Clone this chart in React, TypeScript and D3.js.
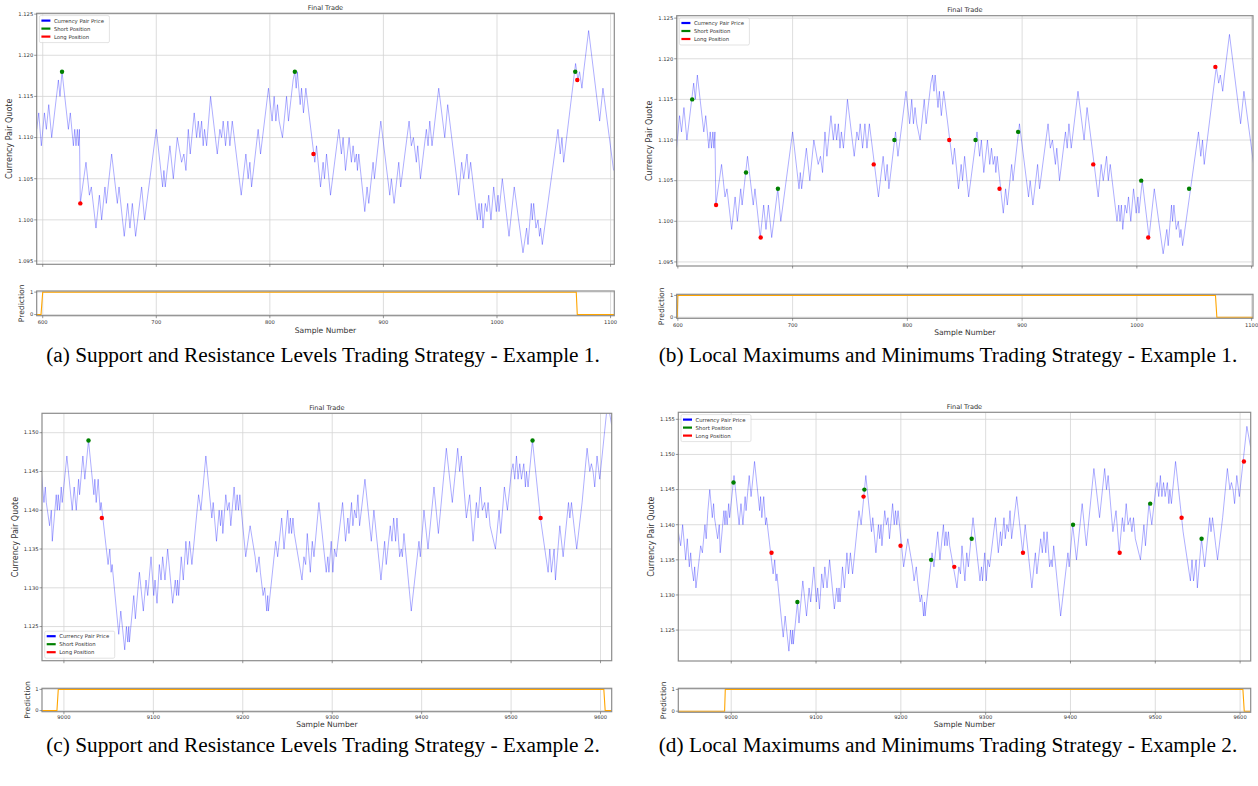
import React from 'react';
import * as d3 from 'd3';

type Pt = [number, number];

// ---------- DATA ----------
const PRICE_AB: Pt[] = [
  [594.7,1.111],[596.5,1.113],[598.8,1.109],[601.5,1.113],[603.2,1.111],[605.3,1.114],[607.9,1.110],[613.8,1.117],[615.2,1.115],[617.0,1.118],
  [622.6,1.111],[624.3,1.113],[627.0,1.109],[628.2,1.111],[629.3,1.109],[630.5,1.111],[631.4,1.109],[632.3,1.111],[633.1,1.102],[638.1,1.107],
  [641.1,1.103],[642.8,1.104],[646.9,1.099],[649.9,1.103],[651.9,1.100],[654.8,1.104],[656.0,1.102],[660.7,1.108],[665.7,1.102],[667.2,1.104],
  [671.8,1.098],[674.8,1.102],[676.8,1.099],[678.9,1.102],[681.8,1.098],[687.1,1.104],[689.7,1.100],[700.0,1.111],[705.6,1.104],[706.7,1.106],
  [707.9,1.104],[712.0,1.109],[715.0,1.105],[718.5,1.110],[722.3,1.107],[724.3,1.108],[726.1,1.106],[728.2,1.111],[729.9,1.108],[733.4,1.113],
  [735.5,1.110],[737.0,1.112],[738.4,1.110],[739.9,1.112],[741.3,1.109],[742.5,1.111],[744.3,1.109],[747.8,1.115],[753.7,1.108],[756.0,1.111],
  [757.5,1.110],[758.9,1.112],[761.0,1.109],[763.0,1.112],[764.8,1.109],[766.9,1.112],[771.3,1.107],[774.8,1.103],[778.9,1.108],[780.9,1.105],
  [782.4,1.107],[783.9,1.104],[789.7,1.111],[791.8,1.108],[798.8,1.116],[802.0,1.112],[803.8,1.115],[805.3,1.112],[806.7,1.114],[808.2,1.112],
  [811.1,1.110],[814.7,1.115],[816.4,1.112],[820.5,1.117],[822.0,1.118],[823.2,1.116],[824.2,1.118],[826.7,1.114],[827.9,1.116],[829.6,1.113],
  [831.7,1.116],[839.6,1.107],[841.1,1.109],[844.6,1.104],[846.9,1.107],[848.1,1.105],[849.9,1.108],[853.4,1.103],[860.7,1.111],[863.0,1.108],
  [864.5,1.110],[866.6,1.106],[869.8,1.110],[871.8,1.107],[873.3,1.109],[874.8,1.107],[876.2,1.108],[877.1,1.106],[878.3,1.108],[883.6,1.101],
  [885.6,1.104],[887.1,1.102],[890.9,1.107],[892.1,1.105],[897.7,1.112],[905.6,1.103],[907.0,1.105],[909.4,1.102],[913.5,1.107],[915.2,1.104],
  [922.6,1.112],[924.6,1.109],[926.4,1.110],[929.0,1.107],[930.2,1.109],[932.6,1.105],[937.8,1.111],[939.3,1.109],[940.8,1.112],[942.8,1.109],
  [948.7,1.116],[954.0,1.110],[956.6,1.114],[966.3,1.103],[968.9,1.107],[970.7,1.105],[973.6,1.108],[975.1,1.105],[976.8,1.107],[982.7,1.100],
  [984.2,1.102],[985.3,1.100],[986.5,1.102],[987.7,1.099],[989.7,1.102],[991.2,1.101],[992.7,1.103],[994.7,1.100],[997.1,1.104],[999.4,1.101],
  [1000.9,1.103],[1001.8,1.101],[1004.7,1.105],[1010.6,1.098],[1015.2,1.104],[1022.9,1.096],[1026.1,1.099],[1027.3,1.097],[1030.2,1.102],[1031.1,1.100],
  [1032.3,1.102],[1034.3,1.099],[1036.1,1.100],[1037.5,1.098],[1038.4,1.099],[1039.9,1.097],[1053.7,1.111],[1055.7,1.108],[1057.2,1.110],[1058.7,1.107],
  [1069.2,1.119],[1071.3,1.117],[1072.7,1.118],[1074.8,1.116],[1076.3,1.118],[1080.7,1.123],[1090.4,1.112],[1093.3,1.116],[1102.7,1.106]
];

const PRICE_CD: Pt[] = [
  [8937.6,1.139],[8940.4,1.137],[8942.7,1.140],[8946.3,1.135],[8948.2,1.138],[8950.6,1.134],[8952.2,1.136],[8953.3,1.134],[8955.7,1.132],[8956.9,1.134],
  [8958.4,1.131],[8964.0,1.137],[8966.0,1.136],[8969.0,1.140],[8970.5,1.138],[8972.5,1.142],[8974.7,1.145],[8977.7,1.141],[8979.2,1.143],[8980.3,1.141],
  [8984.0,1.138],[8985.9,1.140],[8987.0,1.136],[8991.4,1.142],[8992.6,1.140],[8993.7,1.142],[8995.2,1.140],[8997.0,1.143],[8998.1,1.141],[9003.3,1.147],
  [9009.3,1.140],[9011.5,1.143],[9013.8,1.140],[9016.4,1.144],[9017.5,1.142],[9021.2,1.147],[9023.4,1.144],[9027.5,1.149],[9033.5,1.142],[9034.6,1.144],
  [9036.1,1.141],[9038.3,1.144],[9040.5,1.140],[9041.6,1.141],[9049.4,1.133],[9051.3,1.135],[9052.8,1.132],[9053.9,1.133],[9061.3,1.124],[9063.6,1.127],
  [9068.0,1.122],[9069.9,1.125],[9071.4,1.123],[9072.5,1.125],[9073.2,1.123],[9078.1,1.129],[9079.9,1.126],[9084.4,1.132],[9088.8,1.127],[9091.8,1.131],
  [9093.7,1.129],[9097.4,1.134],[9100.4,1.129],[9101.9,1.131],[9104.1,1.128],[9106.7,1.133],[9108.6,1.131],[9110.4,1.134],[9113.0,1.131],[9116.0,1.135],
  [9121.6,1.128],[9124.5,1.131],[9126.0,1.129],[9127.1,1.131],[9128.3,1.129],[9131.2,1.134],[9133.5,1.131],[9136.4,1.136],[9138.3,1.133],[9140.5,1.136],
  [9143.1,1.133],[9150.6,1.142],[9153.2,1.140],[9158.7,1.147],[9165.4,1.139],[9166.9,1.141],[9170.6,1.136],[9173.6,1.140],[9175.1,1.138],[9176.6,1.140],
  [9177.7,1.137],[9181.0,1.142],[9182.9,1.140],[9184.8,1.141],[9186.6,1.138],[9190.3,1.143],[9192.2,1.140],[9193.7,1.142],[9195.2,1.140],[9196.7,1.142],
  [9203.3,1.134],[9208.2,1.138],[9213.8,1.134],[9215.6,1.132],[9218.2,1.134],[9219.7,1.132],[9222.7,1.129],[9224.5,1.130],[9226.8,1.127],[9227.9,1.129],
  [9228.6,1.127],[9236.8,1.136],[9239.0,1.134],[9243.5,1.139],[9246.1,1.135],[9250.2,1.140],[9251.7,1.137],[9253.2,1.139],[9254.6,1.137],[9256.1,1.139],
  [9257.6,1.137],[9266.2,1.131],[9268.4,1.134],[9270.3,1.133],[9272.1,1.137],[9275.5,1.132],[9277.7,1.136],[9279.6,1.134],[9285.1,1.141],[9293.3,1.132],
  [9295.1,1.134],[9296.3,1.132],[9298.9,1.136],[9300.7,1.132],[9302.6,1.135],[9304.5,1.134],[9311.6,1.141],[9314.9,1.136],[9317.5,1.139],[9318.7,1.137],
  [9321.6,1.141],[9323.1,1.138],[9325.0,1.140],[9326.9,1.139],[9328.7,1.142],[9330.6,1.138],[9336.6,1.144],[9343.7,1.136],[9346.6,1.140],[9354.5,1.131],
  [9358.6,1.136],[9360.4,1.133],[9364.9,1.138],[9366.8,1.136],[9368.7,1.139],[9370.9,1.136],[9372.4,1.139],[9375.4,1.134],[9377.2,1.135],[9378.4,1.134],
  [9380.2,1.137],[9388.4,1.127],[9397.0,1.136],[9398.5,1.134],[9402.6,1.140],[9407.1,1.135],[9413.8,1.143],[9418.7,1.137],[9427.6,1.148],[9434.3,1.141],
  [9440.3,1.148],[9442.5,1.145],[9444.4,1.147],[9450.0,1.139],[9453.7,1.142],[9457.5,1.136],[9461.2,1.141],[9463.1,1.139],[9465.7,1.143],[9467.9,1.140],
  [9470.5,1.141],[9472.4,1.139],[9474.3,1.141],[9476.5,1.138],[9482.5,1.135],[9486.6,1.140],[9488.4,1.137],[9492.5,1.143],[9495.9,1.140],[9500.4,1.145],
  [9502.2,1.146],[9504.1,1.144],[9506.0,1.147],[9507.8,1.144],[9509.7,1.146],[9511.6,1.144],[9514.2,1.146],[9516.0,1.143],[9517.2,1.145],[9519.0,1.143],
  [9523.9,1.149],[9532.8,1.139],[9541.4,1.132],[9543.3,1.135],[9545.1,1.132],[9548.1,1.135],[9549.6,1.131],[9554.5,1.138],[9558.2,1.134],[9564.2,1.141],
  [9565.7,1.139],[9567.5,1.141],[9569.4,1.139],[9571.3,1.137],[9573.4,1.135],[9579.4,1.141],[9585.0,1.148],[9588.0,1.145],[9589.8,1.146],[9591.7,1.145],
  [9593.5,1.143],[9596.1,1.147],[9599.1,1.144],[9608.0,1.154],[9612.4,1.151]
];

const SHORT_A: Pt[] = [[617.0,1.118],[822.0,1.118],[1068.9,1.118]];
const LONG_A: Pt[] = [[633.1,1.102],[838.4,1.108],[1070.7,1.117]];
const SHORT_B: Pt[] = [[612.5,1.115],[659.4,1.106],[687.2,1.104],[788.7,1.110],[859.4,1.110],[896.5,1.111],[1003.8,1.105],[1045.5,1.104]];
const LONG_B: Pt[] = [[633.3,1.102],[672.2,1.098],[770.7,1.107],[836.5,1.110],[880.3,1.104],[962.0,1.107],[1009.9,1.098],[1068.4,1.119]];
const SHORT_C: Pt[] = [[9027.5,1.149],[9524.0,1.149]];
const LONG_C: Pt[] = [[9042.4,1.139],[9533.0,1.139]];
const SHORT_D: Pt[] = [[9002.7,1.146],[9078.0,1.129],[9157.0,1.145],[9235.7,1.135],[9283.5,1.138],[9403.0,1.140],[9494.0,1.143],[9554.6,1.138]];
const LONG_D: Pt[] = [[9047.5,1.136],[9156.0,1.144],[9199.6,1.137],[9263.0,1.134],[9344.0,1.136],[9458.0,1.136],[9531.0,1.141],[9604.5,1.149]];

const PRED_A: Pt[] = [[594.7,0],[598.5,0],[600.0,1],[1069.8,1],[1070.7,0],[1103.3,0]];
const PRED_B: Pt[] = [[599.0,0],[599.5,0],[600.0,1],[1068.5,1],[1069.7,0],[1101.2,0]];
const PRED_C: Pt[] = [[8975.5,0],[8992.2,0],[8993.7,1],[9603.7,1],[9605.2,0],[9612.5,0]];
const PRED_D: Pt[] = [[8937.6,0],[8992.2,0],[8993.0,1],[9603.3,1],[9604.9,0],[9612.5,0]];

const TICKS_X_AB = [600, 700, 800, 900, 1000, 1100];
const TICKS_X_CD = [9000, 9100, 9200, 9300, 9400, 9500, 9600];
const TICKS_Y_AB = [1.095, 1.100, 1.105, 1.110, 1.115, 1.120, 1.125];
const TICKS_Y_C = [1.125, 1.130, 1.135, 1.140, 1.145, 1.150];
const TICKS_Y_D = [1.125, 1.130, 1.135, 1.140, 1.145, 1.150, 1.155];
const TICKS_PRED = [0, 1];
const LEGEND_LABELS = ['Currency Pair Price', 'Short Position', 'Long Position'];
const LEGEND_COLORS = ['#0000ff', '#008000', '#ff0000'];
const CAPTIONS = [
  '(a) Support and Resistance Levels Trading Strategy - Example 1.',
  '(b) Local Maximums and Minimums Trading Strategy - Example 1.',
  '(c) Support and Resistance Levels Trading Strategy - Example 2.',
  '(d) Local Maximums and Minimums Trading Strategy - Example 2.',
];

// ---------- LAYOUT ----------
interface Cfg {
  id: string;
  price: Pt[]; shorts: Pt[]; longs: Pt[]; pred: Pt[];
  xDomain: [number, number]; yDomain: [number, number];
  xTicks: number[]; yTicks: number[];
  left: number; right: number; top: number; bottom: number;
  pTop: number; pBottom: number;
  tickY: number; xlabelY: number;
  legendBottom: boolean;
  caption: string; captionX: number; captionY: number;
}

const PANELS: Cfg[] = [
  { id: 'a', price: PRICE_AB, shorts: SHORT_A, longs: LONG_A, pred: PRED_A,
    xDomain: [594.7, 1103.3], yDomain: [1.0946, 1.1251], xTicks: TICKS_X_AB, yTicks: TICKS_Y_AB,
    left: 36.7, right: 614.3, top: 13.3, bottom: 264.3, pTop: 291, pBottom: 315.7,
    tickY: 324, xlabelY: 333, legendBottom: false,
    caption: CAPTIONS[0], captionX: 323, captionY: 362 },
  { id: 'b', price: PRICE_AB, shorts: SHORT_B, longs: LONG_B, pred: PRED_B,
    xDomain: [599.0, 1101.2], yDomain: [1.0945, 1.1253], xTicks: TICKS_X_AB, yTicks: TICKS_Y_AB,
    left: 676.7, right: 1253, top: 15.7, bottom: 266, pTop: 294.3, pBottom: 318.3,
    tickY: 327, xlabelY: 335, legendBottom: false,
    caption: CAPTIONS[1], captionX: 948, captionY: 362 },
  { id: 'c', price: PRICE_CD, shorts: SHORT_C, longs: LONG_C, pred: PRED_C,
    xDomain: [8975.5, 9612.5], yDomain: [1.1206, 1.1525], xTicks: TICKS_X_CD, yTicks: TICKS_Y_C,
    left: 42, right: 611.7, top: 413.3, bottom: 660.7, pTop: 688.3, pBottom: 711.7,
    tickY: 719, xlabelY: 727, legendBottom: true,
    caption: CAPTIONS[2], captionX: 323, captionY: 752 },
  { id: 'd', price: PRICE_CD, shorts: SHORT_D, longs: LONG_D, pred: PRED_D,
    xDomain: [8937.6, 9612.5], yDomain: [1.1206, 1.156], xTicks: TICKS_X_CD, yTicks: TICKS_Y_D,
    left: 678.3, right: 1250.7, top: 412.3, bottom: 661, pTop: 688.3, pBottom: 712.3,
    tickY: 719, xlabelY: 727, legendBottom: false,
    caption: CAPTIONS[3], captionX: 948, captionY: 752 },
];

const FONT = 'DejaVu Sans, sans-serif';
const GRID = '#d4d4d4';
const SPINE = '#8c8c8c';
const TXT = '#333';

function Panel({ c }: { c: Cfg }) {
  const x = d3.scaleLinear().domain(c.xDomain).range([c.left, c.right]);
  const y = d3.scaleLinear().domain(c.yDomain).range([c.bottom, c.top]);
  const yp = d3.scaleLinear().domain([-0.05, 1.05]).range([c.pBottom, c.pTop]);
  const line = d3.line<Pt>().x(d => x(d[0])).y(d => y(d[1]));
  const pline = d3.line<Pt>().x(d => x(d[0])).y(d => yp(d[1]));
  const fmt = d3.format('.3f');
  const midX = (c.left + c.right) / 2;
  const midY = (c.top + c.bottom) / 2;
  const lgX = c.left + 2.7;
  const lgY = c.legendBottom ? c.bottom - 29.5 : c.top + 2.3;
  return (
    <g>
      <defs>
        <clipPath id={`clip-${c.id}`}>
          <rect x={c.left} y={c.top} width={c.right - c.left} height={c.bottom - c.top} />
        </clipPath>
        <clipPath id={`clipp-${c.id}`}>
          <rect x={c.left} y={c.pTop} width={c.right - c.left} height={c.pBottom - c.pTop} />
        </clipPath>
      </defs>
      <text x={midX} y={c.top - 3.5} fontSize={6.6} textAnchor="middle" fill={TXT} fontFamily={FONT}>Final Trade</text>
      {c.xTicks.map(t => (
        <line key={`gx${t}`} x1={x(t)} x2={x(t)} y1={c.top} y2={c.bottom} stroke={GRID} strokeWidth={0.8} />
      ))}
      {c.yTicks.map(t => (
        <line key={`gy${t}`} x1={c.left} x2={c.right} y1={y(t)} y2={y(t)} stroke={GRID} strokeWidth={0.8} />
      ))}
      <g clipPath={`url(#clip-${c.id})`}>
        <path d={line(c.price) || ''} fill="none" stroke="#0000ff" strokeOpacity={0.4} strokeWidth={0.8} />
        {c.shorts.map((d, i) => (
          <circle key={`s${i}`} cx={x(d[0])} cy={y(d[1])} r={2.2} fill="#008000" />
        ))}
        {c.longs.map((d, i) => (
          <circle key={`l${i}`} cx={x(d[0])} cy={y(d[1])} r={2.2} fill="#ff0000" />
        ))}
      </g>
      <rect x={c.left} y={c.top} width={c.right - c.left} height={c.bottom - c.top} fill="none" stroke={SPINE} strokeWidth={1.2} />
      {c.yTicks.map(t => (
        <g key={`ty${t}`}>
          <line x1={c.left - 2.5} x2={c.left} y1={y(t)} y2={y(t)} stroke="#555" strokeWidth={0.6} />
          <text x={c.left - 3.5} y={y(t) + 1.8} fontSize={5.2} textAnchor="end" fill={TXT} fontFamily={FONT}>{fmt(t)}</text>
        </g>
      ))}
      {c.xTicks.map(t => (
        <line key={`tx${t}`} x1={x(t)} x2={x(t)} y1={c.bottom} y2={c.bottom + 2.5} stroke="#555" strokeWidth={0.6} />
      ))}
      <text transform={`translate(${c.left - 24.5},${midY}) rotate(-90)`} fontSize={8} textAnchor="middle" fill={TXT} fontFamily={FONT}>Currency Pair Quote</text>
      <g>
        <rect x={lgX} y={lgY} width={70} height={27} rx={1.5} fill="#fff" fillOpacity={0.85} stroke="#d0d0d0" strokeWidth={0.6} />
        {LEGEND_LABELS.map((lab, i) => (
          <g key={lab}>
            <line x1={lgX + 2} x2={lgX + 11} y1={lgY + 5 + i * 8} y2={lgY + 5 + i * 8} stroke={LEGEND_COLORS[i]} strokeWidth={2.2} />
            <text x={lgX + 14.5} y={lgY + 6.9 + i * 8} fontSize={5.3} fill={TXT} fontFamily={FONT}>{lab}</text>
          </g>
        ))}
      </g>
      {c.xTicks.map(t => (
        <line key={`pgx${t}`} x1={x(t)} x2={x(t)} y1={c.pTop} y2={c.pBottom} stroke={GRID} strokeWidth={0.8} />
      ))}
      {TICKS_PRED.map(t => (
        <line key={`pgy${t}`} x1={c.left} x2={c.right} y1={yp(t)} y2={yp(t)} stroke={GRID} strokeWidth={0.8} />
      ))}
      <g clipPath={`url(#clipp-${c.id})`}>
        <path d={pline(c.pred) || ''} fill="none" stroke="#ffa500" strokeWidth={1.1} />
      </g>
      <rect x={c.left} y={c.pTop} width={c.right - c.left} height={c.pBottom - c.pTop} fill="none" stroke={SPINE} strokeWidth={1.2} />
      {TICKS_PRED.map(t => (
        <g key={`pty${t}`}>
          <line x1={c.left - 2.5} x2={c.left} y1={yp(t)} y2={yp(t)} stroke="#555" strokeWidth={0.6} />
          <text x={c.left - 3.5} y={yp(t) + 1.8} fontSize={5.2} textAnchor="end" fill={TXT} fontFamily={FONT}>{t}</text>
        </g>
      ))}
      {c.xTicks.map(t => (
        <g key={`ptx${t}`}>
          <line x1={x(t)} x2={x(t)} y1={c.pBottom} y2={c.pBottom + 2.5} stroke="#555" strokeWidth={0.6} />
          <text x={x(t)} y={c.tickY} fontSize={5.2} textAnchor="middle" fill={TXT} fontFamily={FONT}>{t}</text>
        </g>
      ))}
      <text transform={`translate(${c.left - 12.5},${(c.pTop + c.pBottom) / 2}) rotate(-90)`} fontSize={7.6} textAnchor="middle" fill={TXT} fontFamily={FONT}>Prediction</text>
      <text x={midX} y={c.xlabelY} fontSize={7.6} textAnchor="middle" fill={TXT} fontFamily={FONT}>Sample Number</text>
      <text x={c.captionX} y={c.captionY} fontSize={21.3} textAnchor="middle" fill="#000" fontFamily="Liberation Serif, Times New Roman, serif">{c.caption}</text>
    </g>
  );
}

export default function App() {
  return (
    <svg width={1258} height={786} viewBox="0 0 1258 786" style={{ position: 'absolute', left: 0, top: 0, background: '#fff' }}>
      <rect x={0} y={0} width={1258} height={786} fill="#fff" />
      {PANELS.map(c => <Panel key={c.id} c={c} />)}
    </svg>
  );
}
